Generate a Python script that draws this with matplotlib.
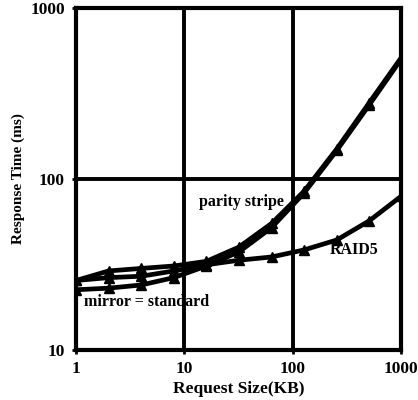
import numpy as np
import matplotlib.pyplot as plt

# Data
size_kb = [1, 2, 4, 8, 16, 32, 64, 128, 256, 512, 1024]
parity_stripe = [25.5, 29.0, 30.0, 31.0, 33.0, 40.0, 55.0, 85.0, 150.0, 280.0, 520.0]
mirror_standard = [22.5, 23.0, 24.0, 26.5, 31.0, 37.5, 52.0, 83.0, 147.0, 272.0, 510.0]
raid5 = [25.5, 26.5, 27.0, 29.0, 31.5, 33.5, 35.0, 38.5, 44.0, 57.0, 80.0]

plt.rcParams['font.family'] = ['Liberation Serif', 'DejaVu Serif']
plt.rcParams['font.weight'] = 'bold'

fig = plt.figure(figsize=(4.18, 4.0), dpi=100)
ax = fig.add_axes([0.182, 0.125, 0.777, 0.855])

for ys in (parity_stripe, mirror_standard, raid5):
    ax.plot(size_kb, ys, color='black', linewidth=3.4, marker='^',
            markersize=7, markerfacecolor='black', solid_joinstyle='round')

ax.set_xscale('log')
ax.set_yscale('log')
ax.set_xlim(1, 1000)
ax.set_ylim(10, 1000)
ax.set_xticks([1, 10, 100, 1000])
ax.set_xticklabels(['1', '10', '100', '1000'])
ax.set_yticks([10, 100, 1000])
ax.set_yticklabels(['10', '100', '1000'])
ax.minorticks_off()
ax.grid(True, color='black', linewidth=2.8)
for s in ax.spines.values():
    s.set_linewidth(3)
ax.tick_params(length=3, width=2, labelsize=12.5, pad=5)

ax.set_xlabel('Request Size(KB)', fontsize=12.5, fontweight='bold', labelpad=3)
ax.set_ylabel('Response Time (ms)', fontsize=11, fontweight='bold', labelpad=4)

ax.text(0.508, 0.433, 'parity stripe', transform=ax.transAxes, fontsize=11.5,
        fontweight='bold', ha='center', va='center')
ax.text(0.855, 0.292, 'RAID5', transform=ax.transAxes, fontsize=11.5,
        fontweight='bold', ha='center', va='center')
ax.text(0.218, 0.14, 'mirror = standard', transform=ax.transAxes, fontsize=11.5,
        fontweight='bold', ha='center', va='center')

fig.savefig('out.png', dpi=100)
